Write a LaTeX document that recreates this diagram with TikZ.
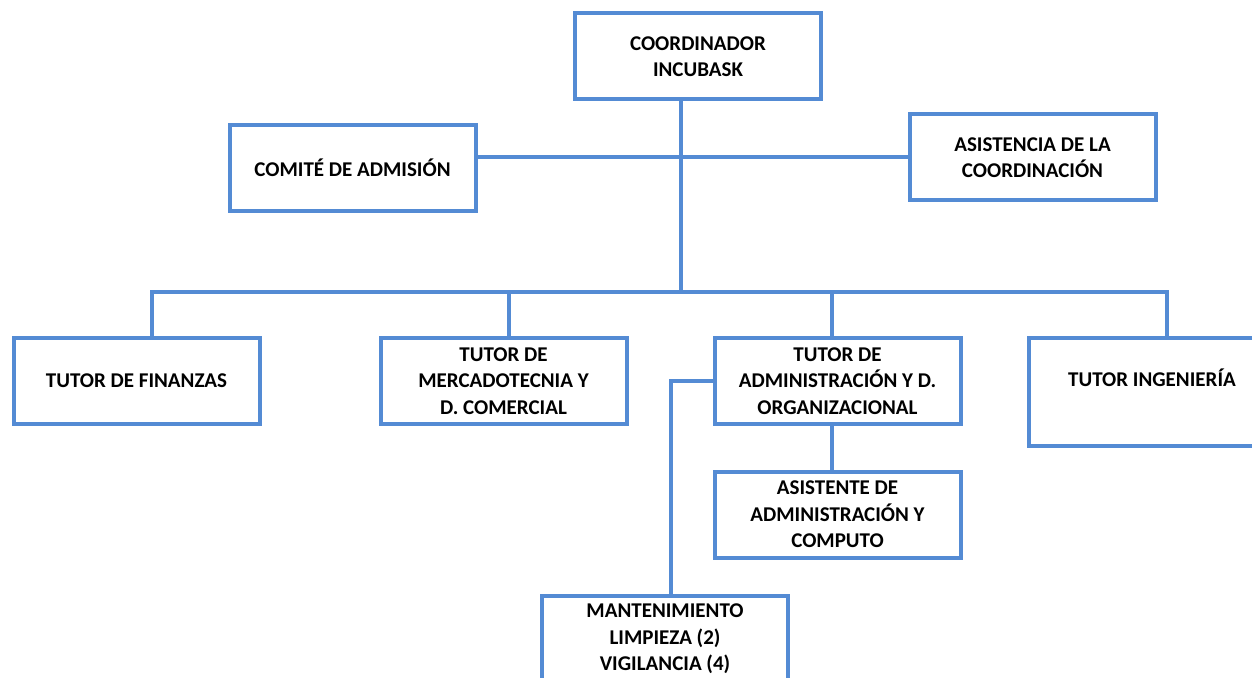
\documentclass[tikz,border=0pt]{standalone}
\usepackage{fontspec}
\setmainfont{Carlito}
\definecolor{orgblue}{RGB}{84,139,212}

\begin{document}
\begin{tikzpicture}[x=0.5pt,y=-0.5pt,
  font=\bfseries\fontsize{10.5}{13.3}\selectfont,
  box/.style={draw=orgblue, line width=2pt, minimum width=123pt, minimum height=43pt, inner sep=0pt, align=center},
  link/.style={draw=orgblue, line width=2pt}]
\clip (0,0) rectangle (1252,678);
% boxes
\node[box] (coord) at (698,56.5) {COORDINADOR\\INCUBASK};
\node[box] (comite) at (352.5,168) {COMITÉ DE ADMISIÓN};
\node[box] (asist) at (1032.5,157.5) {ASISTENCIA DE LA\\COORDINACIÓN};
\node[box] (fin) at (136.5,381) {TUTOR DE FINANZAS};
\node[box] (merc) at (503.5,381) {TUTOR DE\\MERCADOTECNIA Y\\D. COMERCIAL};
\node[box] (admon) at (837.5,381) {TUTOR DE\\ADMINISTRACIÓN Y D.\\ORGANIZACIONAL};
\node[box, minimum height=54pt, label={[yshift=7pt]center:TUTOR INGENIERÍA}] (ing) at (1152,392) {};
\node[box] (asiste) at (837.5,514.5) {ASISTENTE DE\\ADMINISTRACIÓN Y\\COMPUTO};
\node[box] (mant) at (665,639) {MANTENIMIENTO\\LIMPIEZA (2)\\VIGILANCIA (4)};
\coordinate (bus) at (681,292);
% lines
\draw[link] (coord.south -| bus) -- (bus);
\draw[link] (comite.east |- asist.west) -- (asist.west);
\draw[link] ([xshift=7.75pt]fin.north) |- (bus) -| ([xshift=7.5pt]ing.north);
\draw[link] ([xshift=2.75pt]merc.north) -- ([xshift=2.75pt]merc.north |- bus);
\draw[link] ([xshift=-2.75pt]admon.north) -- ([xshift=-2.75pt]admon.north |- bus);
\draw[link] ([xshift=-2.75pt]admon.south) -- ([xshift=-2.75pt]asiste.north);
\draw[link] (admon.west) -| ([xshift=3pt]mant.north);
\end{tikzpicture}
\end{document}
